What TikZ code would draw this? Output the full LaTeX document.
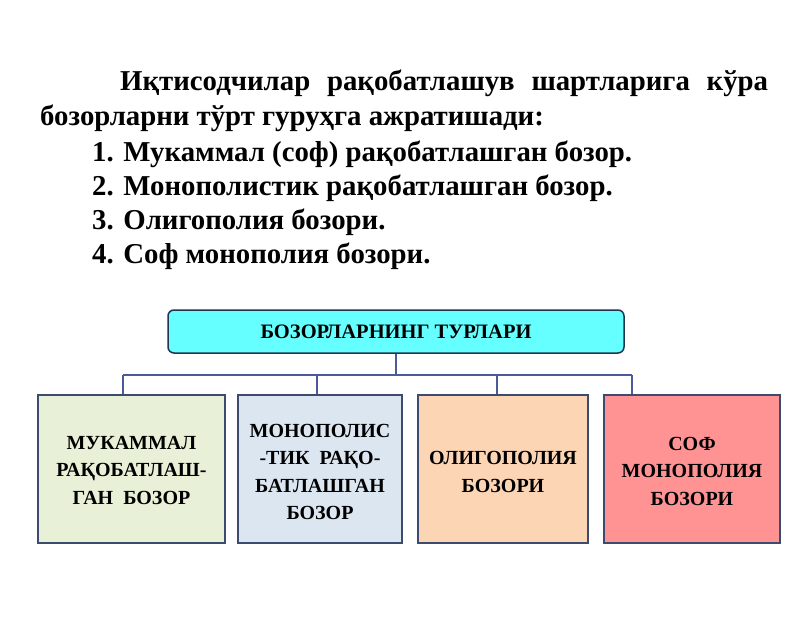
\documentclass[tikz,border=0pt]{standalone}
\usepackage{fontspec}
\setmainfont{Liberation Serif}
\definecolor{headfill}{HTML}{66FFFF}
\definecolor{headdraw}{HTML}{1F3550}
\definecolor{boxdraw}{HTML}{3C4B6E}
\definecolor{linkcol}{HTML}{4A5A9A}
\definecolor{fillA}{HTML}{E8F0D8}
\definecolor{fillB}{HTML}{DCE6F1}
\definecolor{fillC}{HTML}{FCD5B4}
\definecolor{fillD}{HTML}{FF9393}
\tikzset{
  bodytext/.style={anchor=base west, inner sep=0pt, font=\fontsize{28.8}{34}\selectfont\bfseries},
  headbox/.style={draw=headdraw, line width=1.5pt, fill=headfill, rounded corners=6pt, inner sep=0pt},
  typebox/.style={draw=boxdraw, line width=1.5pt, inner sep=0pt},
  boxtext/.style={align=center, inner sep=0pt, font=\fontsize{20}{27.5}\selectfont\bfseries},
  link/.style={draw=linkcol, line width=1.2pt}
}
\begin{document}
\begin{tikzpicture}[x=1pt,y=-1pt]
\useasboundingbox (0,0) rectangle (800,633);
% paragraph
\node[bodytext] (p1) at (120,90) {\makebox[648pt][s]{Иқтисодчилар рақобатлашув шартларига кўра}};
\node[bodytext] (p2) at (40,125) {бозорларни тўрт гуруҳга ажратишади:};
\node[bodytext] (i1) at (92,161) {1. Мукаммал (соф) рақобатлашган бозор.};
\node[bodytext] (i2) at (92,195) {2. Монополистик рақобатлашган бозор.};
\node[bodytext] (i3) at (92,229) {3. Олигополия бозори.};
\node[bodytext] (i4) at (92,263) {4. Соф монополия бозори.};
% header
\node[headbox, minimum width=456pt, minimum height=43pt] (head) at (396,331.5) {};
\node[inner sep=0pt, font=\fontsize{20.5}{24}\selectfont\bfseries] (headtext) at (head.center) {БОЗОРЛАРНИНГ ТУРЛАРИ};
% boxes
\node[typebox, fill=fillA, minimum width=187pt, minimum height=148pt] (b1) at (131.5,469) {};
\node[typebox, fill=fillB, minimum width=164pt, minimum height=148pt] (b2) at (320,469) {};
\node[typebox, fill=fillC, minimum width=170pt, minimum height=148pt] (b3) at (503,469) {};
\node[typebox, fill=fillD, minimum width=176pt, minimum height=148pt] (b4) at (692,469) {};
\node[boxtext] (t1) at (131.5,470) {МУКАММАЛ\\РАҚОБАТЛАШ-\\ГАН\ \ БОЗОР};
\node[boxtext] (t2) at (320,472) {МОНОПОЛИС\\-ТИК\ \ РАҚО-\\БАТЛАШГАН\\БОЗОР};
\node[boxtext] (t3) at (503,472) {ОЛИГОПОЛИЯ\\БОЗОРИ};
\node[boxtext] (t4) at (692,471) {СОФ\\МОНОПОЛИЯ\\БОЗОРИ};
% connectors
\coordinate (bus) at (396,375);
\coordinate (d1) at (123,375);
\coordinate (d2) at (317,375);
\coordinate (d3) at (497,375);
\coordinate (d4) at (632,375);
\draw[link] (head.south) -- (bus);
\draw[link] (d1) -- (d4);
\draw[link] (d1) -- (d1 |- b1.north);
\draw[link] (d2) -- (d2 |- b2.north);
\draw[link] (d3) -- (d3 |- b3.north);
\draw[link] (d4) -- (d4 |- b4.north);
\end{tikzpicture}
\end{document}
